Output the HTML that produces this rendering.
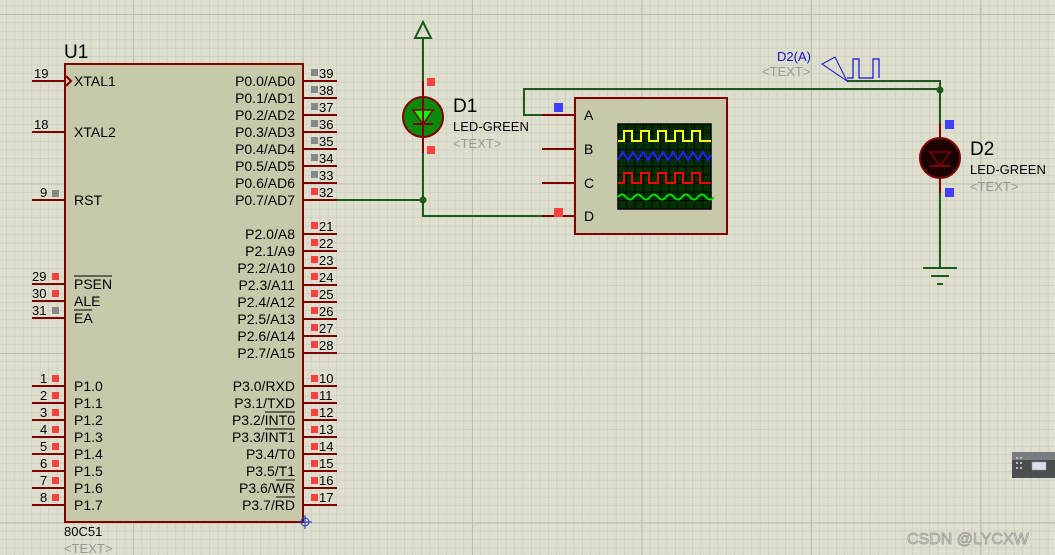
<!DOCTYPE html>
<html><head><meta charset="utf-8"><style>
html,body{margin:0;padding:0;background:#dfdfcf;}
svg{display:block;font-family:"Liberation Sans",Arial,sans-serif;}
</style></head><body>
<svg width="1055" height="555" viewBox="0 0 1055 555" xmlns="http://www.w3.org/2000/svg">
<defs>
<pattern id="minor" x="133" y="14" width="8.47" height="8.47" patternUnits="userSpaceOnUse">
<path d="M0 0V8.47M0 0H8.47" stroke="#cacab9" stroke-width="1.3" fill="none"/>
</pattern>
<pattern id="major" x="133" y="14" width="169.5" height="169.5" patternUnits="userSpaceOnUse">
<path d="M0 0V169.5M0 0H169.5" stroke="#bdbdac" stroke-width="2" fill="none"/>
</pattern>
</defs>
<rect width="1055" height="555" fill="#dfdfcf"/>
<rect width="1055" height="555" fill="url(#minor)"/>
<rect width="1055" height="555" fill="url(#major)"/>

<!-- U1 -->
<text x="64" y="58" font-size="19">U1</text>
<rect x="65" y="64" width="238" height="458" fill="#c8c8ab" stroke="#800000" stroke-width="2"/>
<g stroke="#800000" stroke-width="2">
<path d="M32 81H65M32 132H65M32 200H65M32 284H65M32 301H65M32 318H65"/>
<path d="M32 386H65M32 403H65M32 420H65M32 437H65M32 454H65M32 471H65M32 488H65M32 505H65"/>
<path d="M303 81H337M303 98H337M303 115H337M303 132H337M303 149H337M303 166H337M303 183H337M303 200H337"/>
<path d="M303 234H337M303 251H337M303 268H337M303 285H337M303 302H337M303 319H337M303 336H337M303 353H337"/>
<path d="M303 386H337M303 403H337M303 420H337M303 437H337M303 454H337M303 471H337M303 488H337M303 505H337"/>
</g>
<path d="M66 76L71 81L66 86" stroke="#800000" stroke-width="2" fill="none"/>
<g font-size="14" fill="#000">
<text x="74" y="86">XTAL1</text><text x="74" y="137">XTAL2</text><text x="74" y="205">RST</text>
<text x="74" y="289">PSEN</text><text x="74" y="306">ALE</text><text x="74" y="323">EA</text>
<text x="74" y="391">P1.0</text><text x="74" y="408">P1.1</text><text x="74" y="425">P1.2</text><text x="74" y="442">P1.3</text>
<text x="74" y="459">P1.4</text><text x="74" y="476">P1.5</text><text x="74" y="493">P1.6</text><text x="74" y="510">P1.7</text>
</g>
<path d="M74 276H112M74 310H92" stroke="#000" stroke-width="1"/>
<g font-size="14" text-anchor="end">
<text x="295" y="86">P0.0/AD0</text><text x="295" y="103">P0.1/AD1</text><text x="295" y="120">P0.2/AD2</text><text x="295" y="137">P0.3/AD3</text>
<text x="295" y="154">P0.4/AD4</text><text x="295" y="171">P0.5/AD5</text><text x="295" y="188">P0.6/AD6</text><text x="295" y="205">P0.7/AD7</text>
<text x="295" y="239">P2.0/A8</text><text x="295" y="256">P2.1/A9</text><text x="295" y="273">P2.2/A10</text><text x="295" y="290">P2.3/A11</text>
<text x="295" y="307">P2.4/A12</text><text x="295" y="324">P2.5/A13</text><text x="295" y="341">P2.6/A14</text><text x="295" y="358">P2.7/A15</text>
<text x="295" y="391">P3.0/RXD</text><text x="295" y="408">P3.1/TXD</text><text x="295" y="425">P3.2/INT0</text><text x="295" y="442">P3.3/INT1</text>
<text x="295" y="459">P3.4/T0</text><text x="295" y="476">P3.5/T1</text><text x="295" y="493">P3.6/WR</text><text x="295" y="510">P3.7/RD</text>
</g>
<path d="M265 412H295M265 429H295M276 480H295M276 497H295" stroke="#000" stroke-width="1"/>
<g font-size="13">
<text x="34" y="78">19</text><text x="34" y="129">18</text><text x="40" y="197">9</text>
<text x="32" y="281">29</text><text x="32" y="298">30</text><text x="32" y="315">31</text>
<text x="40" y="383">1</text><text x="40" y="400">2</text><text x="40" y="417">3</text><text x="40" y="434">4</text>
<text x="40" y="451">5</text><text x="40" y="468">6</text><text x="40" y="485">7</text><text x="40" y="502">8</text>
</g>
<g fill="#888">
<rect x="52" y="190" width="7" height="7"/><rect x="52" y="307" width="7" height="7"/>
<rect x="311" y="69" width="7" height="7"/><rect x="311" y="86" width="7" height="7"/><rect x="311" y="103" width="7" height="7"/>
<rect x="311" y="120" width="7" height="7"/><rect x="311" y="137" width="7" height="7"/><rect x="311" y="154" width="7" height="7"/><rect x="311" y="171" width="7" height="7"/>
</g>
<g fill="#ff4040">
<rect x="52" y="273" width="7" height="7"/><rect x="52" y="290" width="7" height="7"/>
<rect x="52" y="375" width="7" height="7"/><rect x="52" y="392" width="7" height="7"/><rect x="52" y="409" width="7" height="7"/><rect x="52" y="426" width="7" height="7"/>
<rect x="52" y="443" width="7" height="7"/><rect x="52" y="460" width="7" height="7"/><rect x="52" y="477" width="7" height="7"/><rect x="52" y="494" width="7" height="7"/>
<rect x="311" y="188" width="7" height="7"/>
<rect x="311" y="222" width="7" height="7"/><rect x="311" y="239" width="7" height="7"/><rect x="311" y="256" width="7" height="7"/><rect x="311" y="273" width="7" height="7"/>
<rect x="311" y="290" width="7" height="7"/><rect x="311" y="307" width="7" height="7"/><rect x="311" y="324" width="7" height="7"/><rect x="311" y="341" width="7" height="7"/>
<rect x="311" y="375" width="7" height="7"/><rect x="311" y="392" width="7" height="7"/><rect x="311" y="409" width="7" height="7"/><rect x="311" y="426" width="7" height="7"/>
<rect x="311" y="443" width="7" height="7"/><rect x="311" y="460" width="7" height="7"/><rect x="311" y="477" width="7" height="7"/><rect x="311" y="494" width="7" height="7"/>
</g>
<g font-size="13">
<text x="319" y="78">39</text><text x="319" y="95">38</text><text x="319" y="112">37</text><text x="319" y="129">36</text>
<text x="319" y="146">35</text><text x="319" y="163">34</text><text x="319" y="180">33</text><text x="319" y="197">32</text>
<text x="319" y="231">21</text><text x="319" y="248">22</text><text x="319" y="265">23</text><text x="319" y="282">24</text>
<text x="319" y="299">25</text><text x="319" y="316">26</text><text x="319" y="333">27</text><text x="319" y="350">28</text>
<text x="319" y="383">10</text><text x="319" y="400">11</text><text x="319" y="417">12</text><text x="319" y="434">13</text>
<text x="319" y="451">14</text><text x="319" y="468">15</text><text x="319" y="485">16</text><text x="319" y="502">17</text>
</g>
<text x="64" y="536" font-size="13">80C51</text>
<text x="64" y="553" font-size="13" fill="#999">&lt;TEXT&gt;</text>
<path d="M298 522H312M305 515V529" stroke="#2030c0" stroke-width="1"/>
<circle cx="305" cy="522" r="4" fill="none" stroke="#2030c0"/>

<!-- wires -->
<g stroke="#1a5a1a" stroke-width="2" fill="none">
<path d="M337 200H423M423 38V216H542"/>
<path d="M542 115H524V89H940V268M847 81H940V89"/>
</g>
<circle cx="423" cy="200" r="3.5" fill="#1a5a1a"/>
<circle cx="940" cy="90" r="3.5" fill="#1a5a1a"/>
<path d="M423 22L415 38H431Z" fill="none" stroke="#1a5a1a" stroke-width="2"/>

<!-- D1 -->
<path d="M423 81V153" stroke="#800000" stroke-width="2"/>
<circle cx="423" cy="117" r="20" fill="#0a8a0a" stroke="#800000" stroke-width="2"/>
<path d="M413 110H433L423 124Z" fill="#00ff00" stroke="#800000" stroke-width="1.5"/>
<path d="M413 124H433M423 97V137" stroke="#800000" stroke-width="2"/>
<rect x="427" y="78" width="8" height="8" fill="#ff4040"/>
<rect x="427" y="146" width="8" height="8" fill="#ff4040"/>
<text x="453" y="112" font-size="19">D1</text>
<text x="453" y="131" font-size="13">LED-GREEN</text>
<text x="453" y="148" font-size="13" fill="#999">&lt;TEXT&gt;</text>

<!-- scope -->
<rect x="575" y="98" width="152" height="136" fill="#c8c8ab" stroke="#800000" stroke-width="2"/>
<path d="M542 115H575M542 149H575M542 183H575M542 216H575" stroke="#800000" stroke-width="2"/>
<rect x="554" y="103" width="9" height="9" fill="#4040ff"/>
<rect x="554" y="208" width="9" height="9" fill="#ff4040"/>
<g font-size="14"><text x="584" y="120">A</text><text x="584" y="154">B</text><text x="584" y="188">C</text><text x="584" y="221">D</text></g>
<rect x="618" y="124" width="93" height="85" fill="#003000" stroke="#000" stroke-width="1.5"/>
<g stroke="#000" stroke-width="1">
<path d="M626.5 124V209M635 124V209M643.5 124V209M652 124V209M660.5 124V209M669 124V209M677.5 124V209M686 124V209M694.5 124V209M703 124V209"/>
<path d="M618 132.5H711M618 141H711M618 149.5H711M618 158H711M618 166.5H711M618 175H711M618 183.5H711M618 192H711M618 200.5H711"/>
</g>
<path d="M618 141H624V131H632V141H641V131H649V141H658V131H666V141H675V131H683V141H692V131H700V141H711" stroke="#ffff00" stroke-width="2" fill="none"/>
<path d="M618 160L623 152L628 160L633 152L638 160L643 152L648 160L653 152L658 160L663 152L668 160L673 152L678 160L683 152L688 160L693 152L698 160L703 152L708 160L711 155" stroke="#2020ff" stroke-width="2" fill="none"/>
<path d="M618 183H624V173H632V183H641V173H649V183H658V173H666V183H675V173H683V183H692V173H700V183H711" stroke="#ff0000" stroke-width="2" fill="none"/>
<path d="M618 197Q622 192 626 197T634 197T642 197T650 197T658 197T666 197T674 197T682 197T690 197T698 197T706 197T714 197" stroke="#00dd00" stroke-width="2" fill="none"/>

<!-- probe -->
<text x="777" y="61" font-size="13" fill="#1010d0">D2(A)</text>
<text x="762" y="76" font-size="13" fill="#999">&lt;TEXT&gt;</text>
<path d="M847 81L822 64L835 57Z" fill="none" stroke="#1010d0" stroke-width="1"/>
<path d="M847 78H853V59H859V78H873V59H879V78" stroke="#1010d0" stroke-width="1.2" fill="none"/>

<!-- D2 -->
<path d="M940 124V193" stroke="#800000" stroke-width="2"/>
<circle cx="940" cy="158" r="20" fill="#1a0000" stroke="#800000" stroke-width="2"/>
<path d="M930 152H950L940 166Z" fill="none" stroke="#800000" stroke-width="1.5"/>
<path d="M930 166H950" stroke="#800000" stroke-width="2"/>
<rect x="945" y="120" width="9" height="9" fill="#4040ff"/>
<rect x="945" y="188" width="9" height="9" fill="#4040ff"/>
<text x="970" y="155" font-size="19">D2</text>
<text x="970" y="174" font-size="13">LED-GREEN</text>
<text x="970" y="191" font-size="13" fill="#999">&lt;TEXT&gt;</text>
<path d="M923 268H957M931 276H949M937 284H943" stroke="#1a5a1a" stroke-width="2"/>

<!-- keyboard widget -->
<rect x="1012" y="452" width="43" height="26" fill="#4a4e50"/>
<rect x="1012" y="452" width="43" height="8" fill="#7a7e80"/>
<rect x="1032" y="462" width="14" height="8" fill="#dde" stroke="#999" stroke-width="0.5"/>
<g fill="#bbb"><rect x="1016" y="457" width="2" height="2"/><rect x="1020" y="457" width="2" height="2"/><rect x="1016" y="462" width="2" height="2"/><rect x="1020" y="462" width="2" height="2"/><rect x="1016" y="467" width="2" height="2"/><rect x="1020" y="467" width="2" height="2"/></g>
<text x="907" y="544" font-size="16" fill="#cfcfc0" stroke="#999" stroke-width="0.7">CSDN @LYCXW</text>
</svg>
</body></html>
